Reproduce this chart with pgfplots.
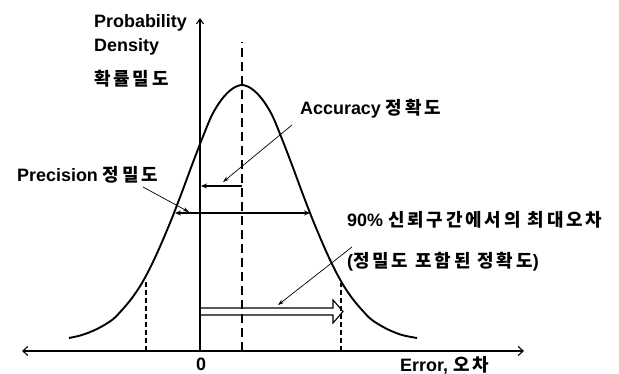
\documentclass[border=0pt]{standalone}
\usepackage{fontspec}
\setmainfont{Liberation Sans}
\newfontfamily\krf{Noto Sans CJK KR}[LetterSpace=16]
\newcommand\kr{\krf\fontsize{18}{20}\selectfont}
\usepackage{pgfplots}
\pgfplotsset{compat=1.18}
\usetikzlibrary{arrows.meta}
\tikzset{lbl/.style={font=\bfseries\fontsize{18}{20}\selectfont, inner sep=0pt}}

\begin{document}
\begin{tikzpicture}
\begin{axis}[
  width=619bp, height=374bp, scale only axis,
  xmin=-200, xmax=419, ymin=-23, ymax=351,
  hide axis, clip=false,
]
\path (axis cs:-200,-23) rectangle (axis cs:419,351);
% probability density curve
\addplot[smooth, tension=0.55, line width=1.9bp, black] coordinates {
(-131,13) (-118,16) (-103,22) (-88,31) (-78,41) (-68,53) (-58,68) (-48,87)
(-38,109) (-28,133) (-18,159) (-8,186) (2,212) (12,236) (22,252) (32,262)
(42,266) (52,262) (62,252) (72,236) (82,212) (92,186) (102,159) (112,133)
(122,109) (132,87) (142,68) (152,53) (162,41) (172,31) (187,22) (202,16) (217,13)
};
% mean line
\addplot[line width=2.2bp, dash pattern=on 9bp off 5bp, black] coordinates {(42,0) (42,309)};
% 90% bounds
\addplot[line width=1.5bp, dash pattern=on 5bp off 3bp, black] coordinates {(-54,0) (-54,71)};
\addplot[line width=1.5bp, dash pattern=on 5bp off 3bp, black] coordinates {(141,0) (141,68)};
% axes
\draw[line width=1.1bp, {Straight Barb[length=5bp,width=9bp]}-{Straight Barb[length=5bp,width=9bp]}] (axis cs:-178,0) -- (axis cs:324,0);
\draw[line width=1.1bp, -{Straight Barb[length=5bp,width=7bp]}] (axis cs:0,0) -- (axis cs:0,333);
% accuracy arrow
\draw[line width=1.4bp, -{Stealth[length=6bp,width=5bp]}] (axis cs:42,165) -- (axis cs:1,165);
\draw[line width=0.7bp, -{Stealth[length=6bp,width=4bp]}] (axis cs:92,226) -- (axis cs:23,169);
% precision arrow
\draw[line width=1.4bp, {Stealth[length=6bp,width=5bp]}-{Stealth[length=6bp,width=5bp]}] (axis cs:-25,138) -- (axis cs:110,138);
\draw[line width=0.7bp, -{Stealth[length=6bp,width=4bp]}] (axis cs:-57,164) -- (axis cs:-11,139);
% 90% max error double arrow
\draw[line width=1.1bp, line join=miter] (axis cs:1,43) -- (axis cs:133,43) -- (axis cs:133,51) -- (axis cs:143,39.5) -- (axis cs:133,28) -- (axis cs:133,36) -- (axis cs:1,36);
\draw[line width=0.7bp, -{Stealth[length=6bp,width=4bp]}] (axis cs:152,104) -- (axis cs:78,46);
% texts
\node[lbl, anchor=base west] at (axis cs:-106,323) {Probability};
\node[lbl, anchor=base west] at (axis cs:-106,299) {Density};
\node[lbl, anchor=base west] at (axis cs:-106,265) {\kr 확률밀도};
\node[lbl, anchor=base west] at (axis cs:100,236) {Accuracy {\kr 정확도}};
\node[lbl, anchor=base west] at (axis cs:-183,169) {Precision {\kr 정밀도}};
\node[lbl, anchor=base west] at (axis cs:147,124) {90\% {\kr 신뢰구간에서의 최대오차}};
\node[lbl, anchor=base west] at (axis cs:147,83) {({\kr 정밀도 포함된 정확도})};
\node[lbl, anchor=base] at (axis cs:1,-19) {0};
\node[lbl, anchor=base west] at (axis cs:200,-20) {Error, {\kr 오차}};
\end{axis}
\end{tikzpicture}
\end{document}
